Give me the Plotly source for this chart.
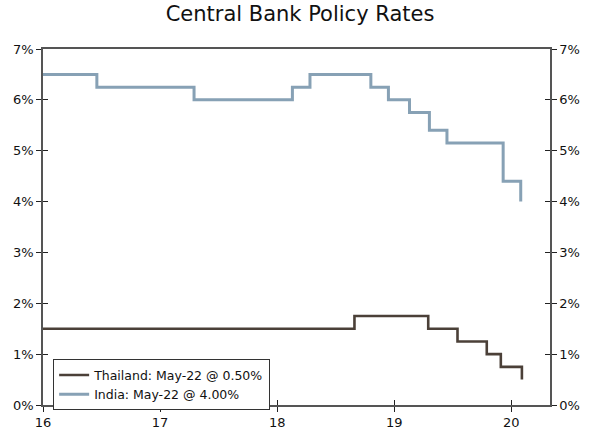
import plotly.graph_objects as go

# Data: x = year (16 = 2016), values in %
india_x = [16.0, 16.46, 17.29, 18.13, 18.28, 18.80, 18.95, 19.13, 19.30, 19.45, 19.93, 20.08]
india_y = [6.50, 6.25, 6.00, 6.25, 6.50, 6.25, 6.00, 5.75, 5.40, 5.15, 4.40, 4.00]
thai_x = [16.0, 18.66, 19.29, 19.54, 19.79, 19.91, 20.09]
thai_y = [1.50, 1.75, 1.50, 1.25, 1.00, 0.75, 0.50]
x_ticks = [16, 17, 18, 19, 20]
x_labels = ["16", "17", "18", "19", "20"]
y_ticks = [0, 1, 2, 3, 4, 5, 6, 7]
y_labels = ["0%", "1%", "2%", "3%", "4%", "5%", "6%", "7%"]

fig = go.Figure()
fig.add_trace(go.Scatter(x=thai_x, y=thai_y, mode="lines", line_shape="hv",
                         line=dict(color="#4b4038", width=2.6),
                         name="Thailand: May-22 @ 0.50%"))
fig.add_trace(go.Scatter(x=india_x, y=india_y, mode="lines", line_shape="hv",
                         line=dict(color="#87a1b5", width=3),
                         name="India: May-22 @ 4.00%"))

FONT = "DejaVu Sans, Verdana, sans-serif"
xr = [16, 20.33]
yr = [0, 7]
axcol = "#555555"
tickfont = dict(family=FONT, size=13, color="#111111")

fig.update_layout(
    width=600, height=436,
    margin=dict(l=43, r=50, t=49, b=31, autoexpand=False),
    paper_bgcolor="white", plot_bgcolor="white",
    font=dict(family=FONT, size=13, color="#111111"),
    title=dict(text="Central Bank Policy Rates", x=0.5, xanchor="center",
               yref="container", y=0.985, yanchor="top",
               font=dict(size=21, family=FONT, color="#111111")),
    showlegend=True,
    legend=dict(x=0.02, y=0.128, xanchor="left", yanchor="top",
                bordercolor="#333333", borderwidth=1, bgcolor="white",
                font=dict(size=12.5, family=FONT), itemwidth=30, tracegroupgap=0),
    xaxis=dict(range=xr, tickvals=x_ticks, ticktext=x_labels, showgrid=False, zeroline=False,
               showline=True, linecolor=axcol, linewidth=1.5, mirror=True, automargin=False,
               ticks="outside", ticklen=5, tickcolor="#222222", tickwidth=1, tickfont=tickfont),
    xaxis2=dict(range=xr, overlaying="x", anchor="y", side="bottom", tickvals=x_ticks,
                showticklabels=False, showgrid=False, zeroline=False, showline=False, automargin=False,
                ticks="inside", ticklen=5, tickcolor="#222222", tickwidth=1),
    yaxis=dict(range=yr, tickvals=y_ticks, ticktext=y_labels, showgrid=False, zeroline=False,
               showline=True, linecolor=axcol, linewidth=1.5, automargin=False,
               ticks="outside", ticklen=5, tickcolor="#222222", tickwidth=1, tickfont=tickfont),
    yaxis2=dict(range=yr, overlaying="y", side="right", anchor="x", tickvals=y_ticks,
                ticktext=y_labels, showgrid=False, zeroline=False, automargin=False,
                showline=True, linecolor=axcol, linewidth=1.5,
                ticks="outside", ticklen=5, tickcolor="#222222", tickwidth=1, tickfont=tickfont),
    yaxis3=dict(range=yr, overlaying="y", side="left", anchor="x", tickvals=y_ticks,
                showticklabels=False, showgrid=False, zeroline=False, showline=False, automargin=False,
                ticks="inside", ticklen=5, tickcolor="#222222", tickwidth=1),
    yaxis4=dict(range=yr, overlaying="y", side="right", anchor="x", tickvals=y_ticks,
                showticklabels=False, showgrid=False, zeroline=False, showline=False, automargin=False,
                ticks="inside", ticklen=5, tickcolor="#222222", tickwidth=1),
)

# invisible traces to activate the overlay axes
for xa, ya in [("x2", "y"), ("x", "y2"), ("x", "y3"), ("x", "y4")]:
    fig.add_trace(go.Scatter(x=[xr[0]], y=[yr[0]], xaxis=xa, yaxis=ya, mode="markers",
                             marker=dict(opacity=0), showlegend=False, hoverinfo="skip"))

fig.write_html("out.html", config={"displayModeBar": False},
               post_script="document.body.style.margin='0';document.body.style.padding='0';")
